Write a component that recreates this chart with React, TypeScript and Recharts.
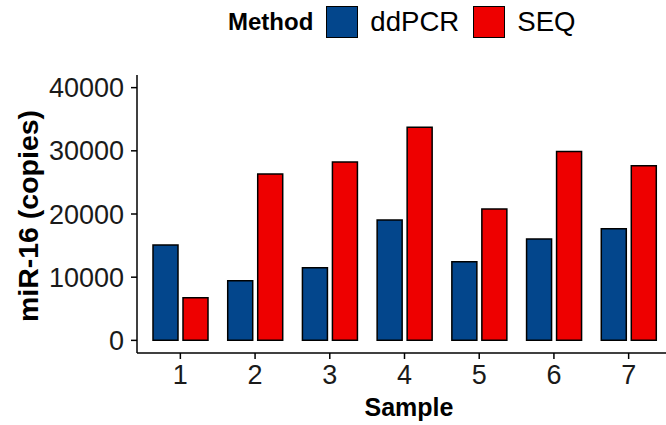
import { BarChart, Bar, XAxis, YAxis } from 'recharts';

const samples = ['1', '2', '3', '4', '5', '6', '7'];
const ddpcr = [15100, 9450, 11500, 19050, 12450, 16050, 17650];
const seq = [6750, 26350, 28250, 33750, 20800, 29900, 27650];
const yTicks = [0, 10000, 20000, 30000, 40000];

const methods = [
  { key: 'ddPCR', color: '#03468C' },
  { key: 'SEQ', color: '#EE0000' },
];

const data = samples.map((s, i) => ({ sample: s, ddPCR: ddpcr[i], SEQ: seq[i] }));

const FONT = '"Liberation Sans", Arial, Helvetica, sans-serif';

function Legend() {
  return (
    <div
      style={{
        position: 'absolute', left: 228, top: 6, height: 32,
        display: 'flex', alignItems: 'center', fontFamily: FONT, color: '#000',
      }}
    >
      <span style={{ fontWeight: 700, fontSize: 24, marginRight: 13 }}>Method</span>
      {methods.map((m) => (
        <span key={m.key} style={{ display: 'flex', alignItems: 'center' }}>
          <span
            style={{
              width: 30, height: 30, background: m.color, border: '1.5px solid #000',
              boxSizing: 'content-box', marginRight: 12,
            }}
          />
          <span style={{ fontSize: 27.6, marginRight: 14 }}>{m.key}</span>
        </span>
      ))}
    </div>
  );
}

export default function App() {
  return (
    <div style={{ position: 'absolute', left: 0, top: 0, width: 666, height: 425, background: '#fff' }}>
      <BarChart
        width={666}
        height={425}
        data={data}
        margin={{ top: 75, right: 0, bottom: 22, left: 0 }}
        barGap={5}
        barSize={25}
      >
        <XAxis
          dataKey="sample"
          height={50}
          padding={{ left: 6, right: 0 }}
          tick={{ fontSize: 27, fill: '#1a1a1a', fontFamily: FONT }}
          tickLine={{ stroke: '#000', strokeWidth: 1.5 }}
          axisLine={{ stroke: '#000', strokeWidth: 1.5 }}
          tickSize={6}
          tickMargin={6}
          label={{
            content: ({ viewBox }: any) => (
              <text
                x={viewBox.x + 272}
                y={416}
                textAnchor="middle"
                style={{ fontSize: 25, fontWeight: 700, fontFamily: FONT }}
                fill="#000"
              >
                Sample
              </text>
            ),
          }}
        />
        <YAxis
          width={137}
          domain={[-2000, 42000]}
          ticks={yTicks}
          allowDataOverflow
          tick={{ fontSize: 27, fill: '#1a1a1a', fontFamily: FONT }}
          tickLine={{ stroke: '#000', strokeWidth: 1.5 }}
          axisLine={{ stroke: '#000', strokeWidth: 1.5 }}
          tickSize={6}
          tickMargin={7}
          label={{
            content: () => {
              const cx = 38;
              const cy = 216;
              return (
                <text
                  x={cx}
                  y={cy}
                  transform={`rotate(-90 ${cx} ${cy})`}
                  textAnchor="middle"
                  style={{ fontSize: 28.5, fontWeight: 700, fontFamily: FONT }}
                  fill="#000"
                >
                  miR-16 (copies)
                </text>
              );
            },
          }}
        />
        {methods.map((m) => (
          <Bar
            key={m.key}
            dataKey={m.key}
            fill={m.color}
            stroke="#000"
            strokeWidth={1.5}
            isAnimationActive={false}
          />
        ))}
      </BarChart>
      <Legend />
    </div>
  );
}
